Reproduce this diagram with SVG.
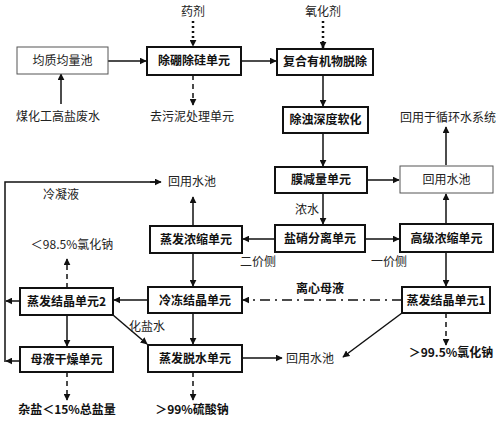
<svg xmlns="http://www.w3.org/2000/svg" width="500" height="421" viewBox="0 0 500 421">
<style>
.b{fill:#fff;stroke:#111;stroke-width:2}
.t{fill:#fff;stroke:#555;stroke-width:1}
.bt{font-family:"Noto Sans CJK SC","Liberation Serif",serif;font-size:12px;font-weight:bold;fill:#111;text-anchor:middle}
.rt{font-family:"Noto Sans CJK SC","Liberation Sans",sans-serif;font-size:12px;fill:#222;text-anchor:middle}
.l{stroke:#111;stroke-width:1.5;fill:none}
.s{marker-end:url(#a)}
.dot{stroke-dasharray:2 3;stroke-width:2.5}
.dash{stroke-dasharray:5 4}
.dd{stroke-dasharray:10 5 2 5}
</style>
<defs>
<marker id="a" viewBox="0 0 10 10" refX="9" refY="5" markerWidth="7" markerHeight="7" markerUnits="userSpaceOnUse" orient="auto">
<path d="M0,0 L10,5 L0,10 z" fill="#111"/>
</marker>
</defs>
<rect width="500" height="421" fill="#fff"/>
<g id="connectors">
<line class="l s" x1="108" y1="61" x2="146" y2="61"/>
<line class="l s" x1="61" y1="104" x2="61" y2="74"/>
<line class="l s dot" x1="193" y1="21" x2="193" y2="46"/>
<line class="l s dash" x1="193" y1="75" x2="193" y2="105"/>
<line class="l s" x1="241" y1="61" x2="276" y2="61"/>
<line class="l s dot" x1="323" y1="21" x2="323" y2="48"/>
<line class="l s" x1="323" y1="75" x2="323" y2="106"/>
<line class="l s" x1="323" y1="133" x2="323" y2="166"/>
<line class="l s" x1="367" y1="180" x2="399" y2="180"/>
<line class="l s" x1="446" y1="165" x2="446" y2="127"/>
<line class="l s" x1="323" y1="193" x2="323" y2="224"/>
<line class="l s" x1="365" y1="239" x2="399" y2="239"/>
<line class="l s" x1="446" y1="223" x2="446" y2="194"/>
<line class="l s" x1="275" y1="239" x2="243" y2="239"/>
<line class="l s" x1="193" y1="226" x2="193" y2="197"/>
<polyline class="l" points="5,362 5,182 155,182"/>
<line class="l s" x1="150" y1="182" x2="161" y2="182"/>
<line class="l s" x1="20" y1="301" x2="6" y2="301"/>
<line class="l s" x1="20" y1="361" x2="6" y2="361"/>
<line class="l s dash" x1="67" y1="288" x2="67" y2="259"/>
<line class="l s" x1="193" y1="253" x2="193" y2="286"/>
<line class="l s" x1="148" y1="300" x2="114" y2="300"/>
<line class="l s" x1="446" y1="252" x2="446" y2="286"/>
<line class="l s dd" x1="402" y1="300" x2="243" y2="300"/>
<line class="l s dash" x1="446" y1="313" x2="446" y2="345"/>
<line class="l s" x1="402" y1="313" x2="343" y2="357"/>
<line class="l s" x1="242" y1="358" x2="282" y2="358"/>
<line class="l s" x1="193" y1="313" x2="193" y2="344"/>
<line class="l s" x1="113" y1="315" x2="147" y2="344"/>
<line class="l s" x1="67" y1="315" x2="67" y2="346"/>
<line class="l s dash" x1="67" y1="372" x2="67" y2="400"/>
<line class="l s dash" x1="193" y1="372" x2="193" y2="400"/>
</g>
<g id="n1"><rect class="t" x="17" y="47" width="91" height="27"/><text class="rt" x="62.5" y="65">均质均量池</text></g>
<g id="n2"><rect class="b" x="147" y="47" width="94" height="28"/><text class="bt" x="194" y="65">除硼除硅单元</text></g>
<g id="n3"><rect class="b" x="277" y="49" width="96" height="26"/><text class="bt" x="325" y="66">复合有机物脱除</text></g>
<g id="n4"><rect class="b" x="283" y="107" width="85" height="26"/><text class="bt" x="325.5" y="124">除浊深度软化</text></g>
<g id="n5"><rect class="b" x="275" y="167" width="92" height="26"/><text class="bt" x="321" y="184">膜减量单元</text></g>
<g id="n6"><rect class="t" x="400" y="166" width="93" height="27"/><text class="rt" x="446.5" y="184">回用水池</text></g>
<g id="n7"><rect class="b" x="275" y="225" width="90" height="27"/><text class="bt" x="320" y="243">盐硝分离单元</text></g>
<g id="n8"><rect class="b" x="400" y="224" width="93" height="28"/><text class="bt" x="446.5" y="243">高级浓缩单元</text></g>
<g id="n9"><rect class="b" x="150" y="226" width="92" height="27"/><text class="bt" x="196" y="244">蒸发浓缩单元</text></g>
<g id="n10"><rect class="b" x="20" y="288" width="93" height="27"/><text class="bt" x="66.5" y="306">蒸发结晶单元2</text></g>
<g id="n11"><rect class="b" x="148" y="287" width="94" height="26"/><text class="bt" x="195" y="305">冷冻结晶单元</text></g>
<g id="n12"><rect class="b" x="402" y="287" width="88" height="26"/><text class="bt" x="446" y="305">蒸发结晶单元1</text></g>
<g id="n13"><rect class="b" x="20" y="347" width="93" height="25"/><text class="bt" x="66.5" y="364">母液干燥单元</text></g>
<g id="n14"><rect class="b" x="148" y="345" width="94" height="27"/><text class="bt" x="195" y="363">蒸发脱水单元</text></g>
<g id="labels">
<text class="rt" x="193" y="16">药剂</text>
<text class="rt" x="323" y="16">氧化剂</text>
<text class="rt" x="58" y="121">煤化工高盐废水</text>
<text class="rt" x="192" y="121">去污泥处理单元</text>
<text class="rt" x="448" y="122">回用于循环水系统</text>
<text class="rt" x="192" y="186">回用水池</text>
<text class="rt" x="61" y="199">冷凝液</text>
<text class="rt" x="307" y="214">浓水</text>
<text class="rt" x="258" y="266">二价侧</text>
<text class="rt" x="389" y="266">一价侧</text>
<text class="rt" x="72" y="249">＜98.5%氯化钠</text>
<text class="bt" x="320" y="293">离心母液</text>
<text class="rt" x="147" y="331">化盐水</text>
<text class="rt" x="310" y="363">回用水池</text>
<text class="bt" x="451" y="357">＞99.5%氯化钠</text>
<text class="bt" x="67" y="414">杂盐＜15%总盐量</text>
<text class="bt" x="192" y="414">＞99%硫酸钠</text>
</g>
</svg>
